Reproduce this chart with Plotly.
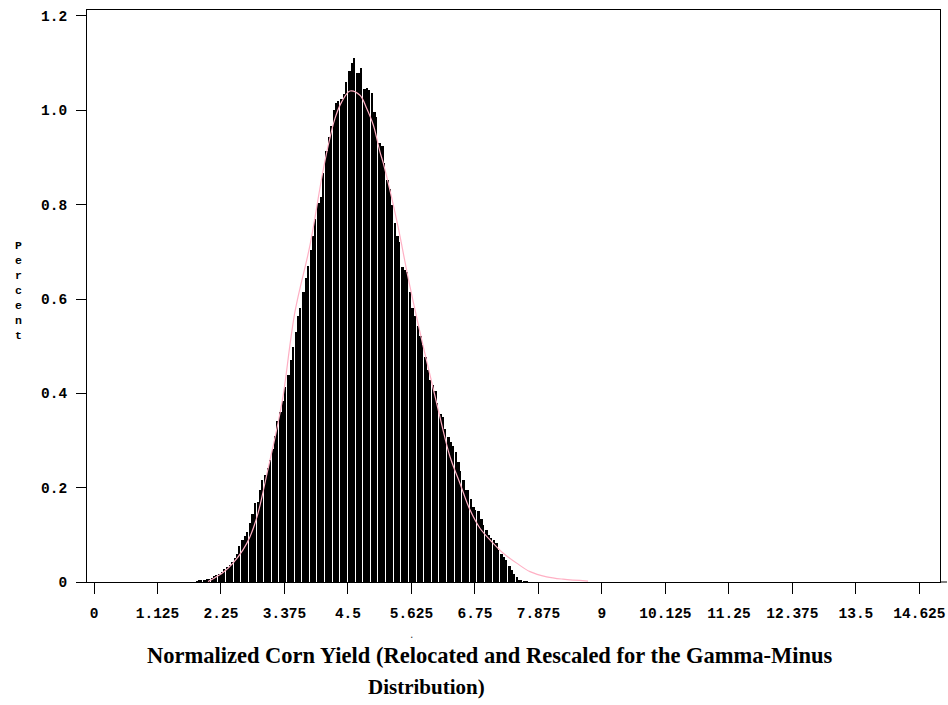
import numpy as np
import plotly.graph_objects as go

# ---------------- data ----------------
bin_start = 1.80
bin_width = 0.045
percent = [
    0.002, 0.003, 0.004, 0.005, 0.006, 0.006, 0.009, 0.012, 0.015, 0.018,
    0.021, 0.027, 0.032, 0.035, 0.043, 0.051, 0.060, 0.077, 0.090, 0.097,
    0.106, 0.125, 0.145, 0.167, 0.170, 0.196, 0.216, 0.226, 0.242, 0.259,
    0.281, 0.310, 0.342, 0.360, 0.384, 0.413, 0.438, 0.471, 0.499, 0.531,
    0.563, 0.580, 0.614, 0.645, 0.670, 0.704, 0.733, 0.769, 0.804, 0.817,
    0.868, 0.914, 0.943, 0.966, 1.001, 1.015, 1.020, 1.025, 1.034, 1.060,
    1.084, 1.100, 1.110, 1.080, 1.079, 1.090, 1.045, 1.047, 1.044, 1.036,
    0.997, 0.986, 0.931, 0.925, 0.888, 0.853, 0.834, 0.800, 0.762, 0.733,
    0.720, 0.668, 0.662, 0.658, 0.615, 0.581, 0.563, 0.543, 0.522, 0.502,
    0.476, 0.450, 0.428, 0.417, 0.405, 0.380, 0.357, 0.350, 0.325, 0.308,
    0.296, 0.288, 0.275, 0.255, 0.235, 0.216, 0.195, 0.196, 0.177, 0.158,
    0.153, 0.150, 0.134, 0.120, 0.111, 0.099, 0.093, 0.088, 0.082, 0.067,
    0.059, 0.053, 0.046, 0.034, 0.026, 0.018, 0.010, 0.005, 0.003, 0.002,
    0.001,
]

curve_x = [2.020, 2.055, 2.286, 2.463, 2.640, 2.764, 2.888, 2.977, 3.065, 3.172,
           3.260, 3.349, 3.561, 3.827, 4.034, 4.151, 4.270, 4.389, 4.536, 4.713,
           4.832, 4.949, 5.067, 5.126, 5.363, 5.599, 5.834, 6.072, 6.307, 6.485,
           6.662, 6.839, 7.075, 7.252, 7.489, 7.725, 8.021, 8.310, 8.753]
curve_y = [0.001, 0.003, 0.020, 0.040, 0.068, 0.096, 0.138, 0.181, 0.230, 0.287,
           0.337, 0.393, 0.573, 0.714, 0.856, 0.926, 0.983, 1.018, 1.041, 1.032,
           1.004, 0.969, 0.912, 0.888, 0.767, 0.626, 0.499, 0.379, 0.266, 0.209,
           0.153, 0.114, 0.082, 0.061, 0.040, 0.022, 0.011, 0.006, 0.002]

x_tickvals = [0, 1.125, 2.25, 3.375, 4.5, 5.625, 6.75, 7.875, 9, 10.125, 11.25, 12.375, 13.5, 14.625]
x_ticktext = ["0", "1.125", "2.25", "3.375", "4.5", "5.625", "6.75", "7.875", "9",
              "10.125", "11.25", "12.375", "13.5", "14.625"]
y_tickvals = [0, 0.2, 0.4, 0.6, 0.8, 1.0, 1.2]
y_ticktext = ["0", "0.2", "0.4", "0.6", "0.8", "1.0", "1.2"]

x_title_1 = "Normalized Corn Yield (Relocated and Rescaled for the Gamma-Minus"
x_title_2 = "Distribution)"
y_title = "Percent"

# ---------------- layout geometry ----------------
W, H = 948, 705
L, R, T, B = 87, 940, 10, 582
x_range = [-0.124, 14.99]
y_range = [0, 1.2127]
units_per_px = (x_range[1] - x_range[0]) / (R - L)

def px(xp):
    return (xp - L) / (R - L)

def py(yp):
    return (B - yp) / (B - T)

n = len(percent)
centers = bin_start + bin_width * (np.arange(n) + 0.5)
gap = 1.0 * units_per_px
widths = [bin_width - gap if i % 3 == 2 else bin_width for i in range(n)]
offsets = [-bin_width / 2] * n

fig = go.Figure()
fig.add_trace(go.Bar(
    x=centers, y=percent, width=widths, offset=offsets,
    marker=dict(color="black", line=dict(width=0)),
    hoverinfo="skip", showlegend=False,
))
fig.add_trace(go.Scatter(
    x=curve_x, y=curve_y, mode="lines",
    line=dict(color="#FFB0C4", width=1.2, shape="spline"),
    hoverinfo="skip", showlegend=False,
))

tick_font = dict(family="Liberation Mono", size=14.5, color="black", weight="bold")

fig.update_layout(
    width=W, height=H,
    margin=dict(l=L, r=W - R, t=T, b=H - B, pad=0, autoexpand=False),
    paper_bgcolor="white", plot_bgcolor="white",
    bargap=0,
    showlegend=False,
    xaxis=dict(
        range=x_range, tickvals=x_tickvals, ticktext=x_ticktext,
        showgrid=False, zeroline=False, automargin=False,
        showline=True, linecolor="black", linewidth=1, mirror=True,
        ticks="outside", ticklen=11, tickcolor="black", tickwidth=1,
        tickfont=tick_font, ticklabelstandoff=7,
    ),
    yaxis=dict(
        range=y_range, tickvals=y_tickvals, ticktext=y_ticktext,
        showgrid=False, zeroline=False, automargin=False,
        showline=True, linecolor="black", linewidth=1, mirror=True,
        ticks="outside", ticklen=10, tickcolor="black", tickwidth=1,
        tickfont=tick_font, ticklabelstandoff=6,
    ),
    shapes=[
        dict(type="line", xref="paper", yref="paper", x0=1, x1=px(947), y0=0, y1=0,
             line=dict(color="black", width=1)),
    ],
    annotations=[
        dict(text="<br>".join(list(y_title)), xref="paper", yref="paper",
             x=px(18), y=py(290), showarrow=False, xanchor="center", yanchor="middle",
             font=dict(family="Liberation Mono", size=11.5, color="black", weight="bold")),
        dict(text=x_title_1, xref="paper", yref="paper",
             x=px(490), y=py(655), showarrow=False, xanchor="center", yanchor="middle",
             font=dict(family="Liberation Serif", size=22.5, color="black", weight="bold")),
        dict(text=x_title_2, xref="paper", yref="paper",
             x=px(426), y=py(687), showarrow=False, xanchor="center", yanchor="middle",
             font=dict(family="Liberation Serif", size=21, color="black", weight="bold")),
        dict(text=".", xref="paper", yref="paper",
             x=px(411), y=py(636), showarrow=False, xanchor="center", yanchor="middle",
             font=dict(family="Liberation Mono", size=9, color="#333333")),
    ],
)

fig.write_html("out.html")
